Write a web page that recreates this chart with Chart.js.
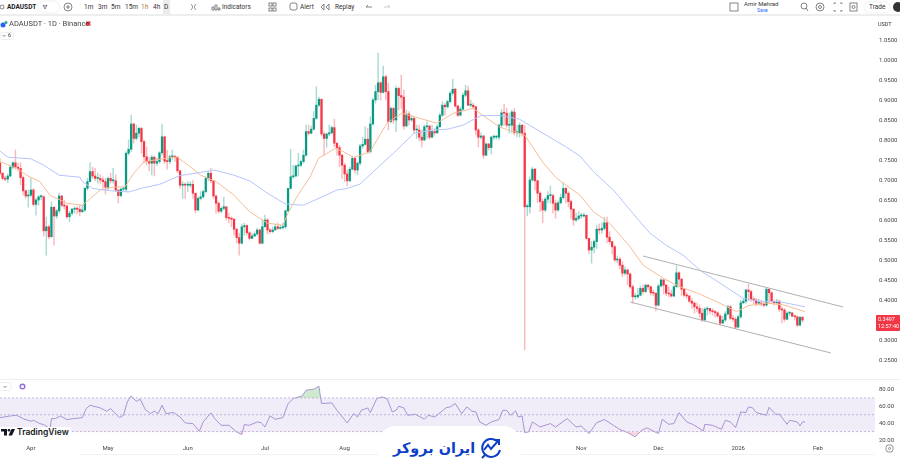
<!DOCTYPE html>
<html>
<head>
<meta charset="utf-8">
<title>ADAUSDT</title>
<script src="https://cdn.jsdelivr.net/npm/chart.js@4/dist/chart.umd.min.js"></script>
<style>
  body { margin: 0; background: #fff; width: 900px; height: 471px; overflow: hidden; position: relative; font-family: Roboto, sans-serif; color: #333; }
  canvas { position: absolute; left: 0; }
  .t { position: absolute; font-size: 6.5px; line-height: 8px; white-space: nowrap; }
  .ic { position: absolute; }
</style>
</head>
<body>
<canvas id="priceChart" style="top:16px"></canvas>
<canvas id="rsiChart" style="top:379px"></canvas>

<!-- toolbar -->
<div style="position:absolute;left:0;top:14px;width:900px;height:2px;background:#eeeeee"></div>
<div style="position:absolute;left:0;top:379px;width:900px;height:1px;background:#efefef"></div>
<div style="position:absolute;left:80px;top:454px;width:795px;height:1px;background:#f2f2f2"></div>
<div style="position:absolute;left:163px;top:0;width:7px;height:14px;background:#ebebeb"></div>
<span class="t" style="left:7px;top:3px;font-weight:700;color:#222">ADAUSDT</span>
<span class="t" style="left:84px;top:3px">1m</span>
<span class="t" style="left:98px;top:3px">3m</span>
<span class="t" style="left:111px;top:3px">5m</span>
<span class="t" style="left:125px;top:3px">15m</span>
<span class="t" style="left:141px;top:3px;color:#b07a2a">1h</span>
<span class="t" style="left:153px;top:3px">4h</span>
<span class="t" style="left:164px;top:3px">D</span>
<span class="t" style="left:222px;top:3px">Indicators</span>
<span class="t" style="left:300px;top:3px">Alert</span>
<span class="t" style="left:335px;top:3px">Replay</span>
<span class="t" style="left:744px;top:0px;font-size:6px">Amir Mehrad</span>
<span class="t" style="left:757px;top:6px;font-size:5px;color:#2962ff">Save</span>
<span class="t" style="left:869px;top:3px">Trade</span>
<svg class="ic" style="left:0;top:0" width="900" height="16" fill="none" stroke="#666" stroke-width="0.8">
  <circle cx="2" cy="7" r="2"/>
  <rect x="38" y="1" width="22" height="12" rx="6" stroke="#eee"/>
  <path d="M43 5l2 1 2-1-2 4z"/>
  <circle cx="68" cy="7" r="4"/><path d="M66 7h4M68 5v4"/>
  <path d="M191 4c2 2 2 4 0 6M196 4c-2 2-2 4 0 6"/>
  <path d="M212 10v-3h2v3zM215 10v-5h2v5zM218 10v-2h2v2z"/>
  <rect x="269" y="3" width="3" height="3"/><rect x="273" y="3" width="3" height="3"/><rect x="269" y="8" width="3" height="3"/><rect x="273" y="8" width="3" height="3"/>
  <rect x="290" y="3" width="7" height="7" rx="2"/>
  <path d="M324 4l-3 3 3 3zM329 4l-3 3 3 3z"/>
  <path d="M366 7h6M366 7l2-2" /><path d="M384 7h6M390 7l-2-2" stroke="#bbb"/>
  <rect x="730" y="3" width="8" height="8"/>
  <circle cx="804" cy="6" r="3"/><path d="M806 8l2 3"/>
  <circle cx="820" cy="7" r="4"/><circle cx="820" cy="7" r="1.5"/>
  <path d="M834 4v-1h2M840 3h2v1M842 10v1h-2M836 11h-2v-1"/>
  <rect x="850" y="3" width="7" height="8"/><circle cx="853.500" cy="7" r="1.500"/>
  <rect x="864" y="2" width="26" height="11" rx="5.500" stroke="#eee"/>
  <circle cx="898" cy="7" r="5" fill="#333" stroke="none"/>
</svg>

<!-- header of the pane -->
<svg class="ic" style="left:0;top:20px" width="100" height="20">
  <circle cx="3" cy="5" r="2.500" fill="#2962ff"/><circle cx="6" cy="2.500" r="1.500" fill="#26a69a"/>
  <path d="M86 1.500h5l-1 2 1 2h-5z" fill="#f23645"/>
  <rect x="0.500" y="12.500" width="13" height="7" rx="2" fill="#fff" stroke="#eee"/>
  <path d="M2.500 15l1.500 1.500 1.500-1.500" fill="none" stroke="#555" stroke-width="0.700"/>
</svg>
<span class="t" style="left:9px;top:20px;font-size:7.500px;color:#444">ADAUSDT · 1D · Binance</span>
<span class="t" style="left:8px;top:31px;font-size:5.500px">6</span>
<span class="t" style="left:878px;top:20px;font-size:5.500px">USDT</span>

<!-- last price tag -->
<div style="position:absolute;left:876px;top:315px;width:24px;height:16px;background:#f23645;border-radius:1px"></div>
<span class="t" style="left:878px;top:315px;color:#fff;font-size:5.500px">0.3497</span>
<span class="t" style="left:878px;top:322px;color:#fff;font-size:5.500px">12:57:40</span>

<!-- rsi header -->
<svg class="ic" style="left:0;top:382px" width="40" height="12">
  <rect x="-3" y="0.500" width="14" height="8" rx="1.500" fill="#fff" stroke="#eee"/>
  <path d="M3.500 4l1.500 1.500 1.500-1.500" fill="none" stroke="#555" stroke-width="0.700"/>
  <circle cx="22.500" cy="4.500" r="2.300" fill="none" stroke="#8e6ee0" stroke-width="1.400"/>
</svg>
<svg class="ic" style="left:885px;top:444px" width="10" height="10" fill="none" stroke="#666" stroke-width="0.700">
  <rect x="1" y="1" width="7" height="7" rx="2.500"/><circle cx="4.500" cy="4.500" r="1"/>
</svg>

<!-- tradingview mark -->
<div style="position:absolute;left:0;top:427px;width:71px;height:11px;background:#fff"></div>
<svg class="ic" style="left:1px;top:428px" width="15" height="9" fill="#131722">
  <path d="M0 1h6v6.500h-3v-4h-3z"/><circle cx="8" cy="2.300" r="1.300"/><path d="M10.500 1h3.500l-3 6.500h-3.500z"/>
</svg>
<span class="t" style="left:17px;top:427px;font-size:8.500px;line-height:11px;font-family:Inter,sans-serif;font-weight:600;color:#131722">TradingView</span>

<!-- iran broker banner -->
<div style="position:absolute;left:378px;top:426px;width:143px;height:45px;background:#fff;border-radius:18px 18px 0 0"></div>
<span class="t" dir="rtl" style="left:393px;top:437px;font-size:14.400px;line-height:22px;font-family:'DejaVu Sans';font-weight:700;color:#0d3fc6">ایران بروکر</span>
<svg class="ic" style="left:479px;top:436px" width="24" height="24" fill="none" stroke="#0d3fc6" stroke-width="2">
  <path d="M18 5a9 9 0 1 0 3 9"/>
  <path d="M5 14l4-5 3 4 7-8M15 4h5v5"/>
  <path d="M3 22l3-3"/>
</svg>

<script>
const firstOpen = 0.742;
const closes = [
  .717,.704,.702,.710,.732,.743,.732,.729,.706,.673,.660,.662,.675,.639,.650,.658,.658,.573,.583,.558,
  .632,.610,.623,.660,.637,.635,.608,.617,.627,.629,.627,.621,.625,.679,.696,.721,.710,.704,.704,.700,
  .696,.682,.704,.698,.698,.675,.661,.677,.677,.767,.777,.840,.804,.817,.829,.796,.758,.746,.742,.757,
  .742,.746,.768,.808,.747,.746,.758,.758,.757,.723,.687,.689,.687,.687,.689,.667,.625,.654,.658,.671,
  .704,.717,.698,.660,.642,.622,.629,.633,.606,.604,.602,.577,.556,.542,.583,.586,.568,.554,.560,.565,
  .575,.542,.583,.600,.575,.571,.575,.583,.579,.581,.583,.623,.679,.708,.710,.735,.737,.746,.762,.821,
  .817,.827,.854,.887,.902,.815,.804,.815,.818,.831,.792,.781,.762,.737,.715,.698,.727,.754,.725,.742,
  .785,.789,.802,.771,.840,.900,.921,.943,.919,.958,.921,.846,.879,.850,.929,.911,.907,.835,.865,.850,
  .854,.825,.825,.807,.800,.833,.835,.807,.821,.818,.833,.862,.887,.883,.896,.917,.927,.885,.862,.877,
  .912,.923,.887,.887,.883,.825,.807,.810,.762,.790,.781,.807,.807,.807,.837,.868,.867,.837,.837,.870,
  .818,.818,.837,.817,.633,.633,.700,.727,.698,.667,.646,.625,.652,.661,.661,.642,.625,.643,.656,.679,
  .667,.646,.627,.600,.604,.610,.610,.612,.554,.525,.532,.546,.577,.575,.579,.593,.557,.546,.533,.500,
  .502,.487,.467,.475,.465,.433,.408,.408,.412,.429,.421,.437,.433,.418,.417,.387,.435,.450,.437,.417,
  .415,.410,.433,.468,.452,.427,.412,.410,.397,.392,.383,.379,.367,.350,.377,.379,.373,.371,.368,.360,
  .342,.350,.365,.383,.354,.352,.332,.358,.393,.397,.425,.421,.402,.400,.392,.392,.390,.387,.427,.418,
  .396,.393,.397,.377,.375,.352,.367,.368,.360,.358,.337,.357,.3497
];
const highs = [
  .754,.718,.710,.715,.737,.746,.775,.742,.743,.710,.675,.675,.704,.679,.654,.662,.663,.660,.607,.587,
  .645,.633,.627,.667,.662,.650,.637,.622,.629,.633,.633,.637,.637,.683,.704,.743,.732,.729,.717,.713,
  .708,.704,.708,.717,.729,.713,.675,.679,.682,.771,.800,.862,.842,.837,.832,.832,.800,.782,.757,.762,
  .760,.754,.771,.840,.810,.775,.762,.775,.762,.758,.725,.696,.693,.696,.696,.700,.667,.658,.671,.675,
  .708,.721,.729,.698,.662,.646,.633,.657,.633,.617,.608,.604,.579,.567,.590,.592,.587,.571,.567,.571,
  .579,.577,.600,.612,.604,.579,.583,.590,.592,.587,.592,.625,.679,.777,.737,.737,.767,.750,.775,.837,
  .837,.835,.871,.933,.907,.902,.821,.818,.837,.835,.852,.793,.787,.765,.742,.725,.732,.760,.757,.746,
  .790,.807,.833,.829,.858,.904,.937,1.017,.946,.985,.962,.942,.883,.883,.935,.932,.962,.925,.875,.871,
  .862,.858,.837,.837,.825,.837,.846,.837,.837,.829,.837,.867,.896,.892,.900,.921,.952,.929,.887,.883,
  .917,.937,.935,.900,.892,.885,.829,.817,.812,.793,.792,.810,.812,.812,.840,.877,.890,.879,.867,.875,
  .879,.837,.843,.840,.837,.640,.708,.732,.729,.700,.671,.652,.656,.671,.685,.665,.650,.648,.665,.693,
  .682,.671,.650,.629,.617,.621,.617,.617,.612,.554,.546,.550,.587,.590,.593,.607,.607,.571,.546,.537,
  .510,.507,.496,.483,.477,.468,.437,.417,.429,.435,.437,.440,.440,.435,.425,.418,.440,.454,.452,.440,
  .433,.425,.437,.485,.471,.454,.429,.418,.412,.404,.396,.393,.388,.379,.381,.383,.379,.379,.375,.371,
  .365,.360,.371,.387,.387,.362,.357,.362,.400,.404,.427,.440,.425,.408,.404,.402,.400,.396,.431,.427,
  .421,.400,.402,.400,.383,.379,.371,.371,.365,.362,.360,.358,.358
];
const lows = [
  .713,.700,.698,.693,.708,.728,.727,.723,.688,.662,.654,.632,.658,.635,.612,.637,.650,.560,.512,.553,
  .557,.537,.604,.617,.633,.627,.604,.596,.612,.617,.615,.611,.618,.621,.675,.696,.704,.698,.692,.690,
  .679,.665,.675,.692,.692,.671,.643,.658,.671,.671,.762,.771,.792,.800,.807,.767,.742,.737,.723,.713,
  .710,.735,.742,.762,.742,.727,.740,.750,.746,.718,.679,.654,.654,.671,.682,.654,.618,.623,.650,.654,
  .667,.698,.693,.654,.617,.617,.618,.625,.600,.593,.583,.562,.543,.512,.540,.562,.562,.550,.554,.558,
  .562,.540,.540,.583,.565,.567,.568,.575,.575,.577,.577,.579,.621,.677,.704,.708,.710,.733,.742,.760,
  .812,.815,.825,.852,.883,.810,.762,.782,.810,.815,.783,.762,.733,.704,.696,.685,.696,.725,.717,.713,
  .737,.779,.787,.765,.767,.837,.892,.900,.900,.917,.900,.825,.843,.842,.821,.875,.879,.827,.833,.837,
  .846,.817,.804,.798,.782,.798,.804,.802,.807,.812,.815,.832,.858,.862,.879,.892,.912,.882,.858,.860,
  .875,.908,.885,.882,.877,.812,.783,.802,.754,.760,.775,.765,.800,.802,.800,.833,.837,.832,.817,.818,
  .812,.808,.807,.810,.275,.610,.617,.696,.675,.643,.621,.593,.621,.643,.642,.617,.604,.621,.640,.652,
  .643,.633,.604,.587,.596,.600,.604,.607,.550,.515,.492,.518,.529,.565,.567,.575,.543,.540,.515,.496,
  .493,.477,.458,.462,.437,.429,.392,.402,.404,.410,.415,.418,.425,.412,.410,.373,.385,.433,.415,.411,
  .408,.407,.408,.432,.433,.412,.408,.404,.393,.379,.367,.371,.357,.346,.348,.362,.365,.362,.357,.357,
  .337,.343,.346,.362,.350,.346,.329,.332,.354,.390,.392,.398,.396,.390,.385,.387,.385,.383,.385,.392,
  .392,.387,.390,.371,.343,.346,.350,.360,.357,.350,.333,.337,.344
];

const ema20Days = [0,6.5,10.4,15.5,19.4,26,32,33.7,39,44,48.6,52,56,68.7,74,78,84,91,97,104,110,112,115.4,120.6,123.8,130.3,133.5,137.4,143.9,150.4,156.2,163.3,169.8,176.3,184,189.3,194.4,204,211.3,216.5,225.5,230.7,237,245,250,258,264.4,272,278.6,286.4,291,298,304.5,313];
const ema20Values = [.746,.729,.712,.696,.662,.642,.637,.646,.675,.682,.683,.717,.746,.758,.733,.712,.696,.662,.621,.592,.587,.617,.658,.708,.754,.779,.771,.756,.771,.842,.867,.854,.842,.867,.879,.854,.832,.812,.742,.704,.662,.621,.592,.533,.487,.454,.433,.415,.396,.371,.386,.392,.388,.371];
const ema50Days = [0,3,12,17,23,31,32,36,43,50,56,62,70,78,83,91,97,104,111,118,126,131,135,140,146.5,153,161,168.5,174,180,187,194.5,202,210,220,225.5,230.7,238.5,246,252.7,259,265.6,272.8,280,289,295.4,303,313];
const ema50Values = [.772,.757,.753,.737,.712,.707,.696,.679,.673,.670,.681,.689,.711,.719,.725,.712,.698,.667,.640,.637,.660,.675,.679,.690,.729,.767,.817,.825,.827,.837,.861,.861,.852,.821,.783,.760,.721,.675,.617,.567,.537,.512,.471,.442,.404,.397,.396,.383];

const upperChannelDays = [250,327.8];
const upperChannelPrices = [.51,.3825];
const lowerChannelDays = [245,323.1];
const lowerChannelPrices = [.395,.2675];

const priceTicks = [1.05,1,.95,.9,.85,.8,.75,.7,.65,.6,.55,.5,.45,.4,.35,.3,.25];

const rsiDays = [0,4,6.5,9,12,13,15.5,17,19.5,20,21.5,23.5,26,28.5,32,33.5,35,39,41.5,43,45.5,46.5,48,49.5,51,53,54.5,56.5,58.5,60,61.5,63,64.5,67.5,70,72,75,77.5,79,82,83.5,86,89,92,94,95,97,100,101.5,103,105,107,110,112,114,117.5,119,122,124,125,129,131,135,137.5,139,140.5,143,144,146.5,148.5,150.5,152,152.5,154,155,157,158.5,161.5,165,166.5,169,171.5,173.5,175,177,179.5,181.5,183.5,185,186.5,189,191,194,195.5,197,198.5,200.5,201.5,203,204,205.5,207,210,214,216,220.5,224,226,229,232,235,238.5,241,243.5,247,249.5,251.5,256,257.5,260,262,264,267,269.5,273.5,274,277,280.5,282,284,286,288,290,291,292.5,294,298,299,301.5,303,306,307,310,311,312,313];
const rsiValues = [46.6,48.6,49.4,45.4,42.3,43.5,39.5,38.3,33.6,45.4,45.4,48.6,44.3,45.4,46.6,57.3,61.3,58.1,54.2,57.3,49.4,46.6,49.4,65.2,72.4,66,68.4,56.1,51.4,54.2,51.4,61.3,51.4,52.6,47.4,40.3,39.5,30.4,41.5,52.2,45.4,37.5,37.5,29.6,26.4,38.3,37.5,41.5,40.7,35.5,48.6,44.7,46.6,63.3,69.2,72.4,79.1,80.3,83.9,63.3,64.1,55.3,40.3,51.4,47.4,55.3,58.1,52.6,69.2,71.2,69.2,57.3,53.4,55.3,60.1,58.1,49.4,50.6,44.7,49.4,47.4,53.4,58.5,59.3,63.3,51.4,59.3,54.2,53.4,41.5,37.5,41.5,44.3,55.3,55.3,49.4,54.6,47.4,48.6,28.8,29.6,41.5,35.5,39.5,35.5,45.4,35.5,36.7,27.6,40.7,44.3,37.5,32.4,29.6,23.7,31.6,34.4,27.6,44.7,38.7,39.5,52.6,41.5,38.3,30.8,38.7,37.5,32.8,43.5,41.5,34.8,53.4,52.6,59.3,58.5,52.6,49.4,58.9,50.6,50.6,38.7,43.5,41.5,36.7,41.5,41.5];
const rsiBandDays = [0,341];
const rsiUpper = [70,70];
const rsiMiddle = [50,50];
const rsiLower = [30,30];
const rsiTicks = [80,60,40,20];

const monthDays = [12,42,73,103,134,226,256,287,318];
const monthLabels = ['Apr','May','Jun','Jul','Aug','Nov','Dec','2026','Feb'];

const GREEN = '#089981';
const RED = '#f23645';
const axisFont = { family: 'Roboto', size: 6 };
const maxDay = 340.2;

const opens = closes.map((c, i) => i === 0 ? firstOpen : closes[i - 1]);
const isUp = closes.map((c, i) => c >= opens[i]);

function points(xs, ys) {
  return xs.map((x, i) => ({ x: x, y: ys[i] }));
}

function lineSet(xs, ys, color, width, extra) {
  return Object.assign({
    type: 'line', data: points(xs, ys), borderColor: color, borderWidth: width,
    pointRadius: 0, tension: 0, fill: false
  }, extra || {});
}

// axis labels must not eat into the plot area, the panes have to line up with the page
function fitRight(s) {
  s.width = 25;
  s.paddingTop = 0;
  s.paddingBottom = 0;
}

const noGrid = { display: false, drawTicks: false };

// wicks and bodies are two floating bar sets on top of each other
const wickData = closes.map((c, i) => ({ x: i, y: [lows[i], highs[i]] }));
const bodyData = closes.map((c, i) => ({ x: i, y: [opens[i], c] }));

const priceCanvas = document.getElementById('priceChart');
priceCanvas.width = 900;
priceCanvas.height = 363;
new Chart(priceCanvas, {
  type: 'bar',
  data: {
    datasets: [
      lineSet(ema50Days, ema50Values, '#b3c5fb', 1, { order: 1 }),
      lineSet(ema20Days, ema20Values, '#f5bd96', 1, { order: 1 }),
      lineSet(upperChannelDays, upperChannelPrices, '#b0b0b0', 1, { order: 0 }),
      lineSet(lowerChannelDays, lowerChannelPrices, '#b0b0b0', 1, { order: 0 }),
      {
        data: bodyData, order: 2, grouped: false, barThickness: 1.6, minBarLength: 1,
        backgroundColor: isUp.map(u => u ? GREEN : RED)
      },
      {
        data: wickData, order: 3, grouped: false, barThickness: 0.8,
        backgroundColor: isUp.map(u => u ? 'rgba(8,153,129,0.35)' : 'rgba(242,54,69,0.35)')
      }
    ]
  },
  options: {
    responsive: false,
    animation: false,
    layout: { padding: 0 },
    plugins: { legend: { display: false }, tooltip: { enabled: false } },
    scales: {
      x: { type: 'linear', min: 0, max: maxDay, display: false, offset: false },
      y: {
        position: 'right', min: 0.2025, max: 1.11,
        grid: noGrid, border: { display: false },
        afterBuildTicks: s => { s.ticks = priceTicks.map(v => ({ value: v })); },
        afterFit: fitRight,
        ticks: { autoSkip: false, padding: 4, color: '#444', font: axisFont, callback: v => v.toFixed(4) }
      }
    }
  }
});

const rsiCanvas = document.getElementById('rsiChart');
rsiCanvas.width = 900;
rsiCanvas.height = 77;
new Chart(rsiCanvas, {
  type: 'line',
  data: {
    datasets: [
      lineSet(rsiBandDays, rsiUpper, '#b7a8d8', 0.8, { borderDash: [2, 2], fill: '+2', backgroundColor: 'rgba(126,87,194,0.11)' }),
      lineSet(rsiBandDays, rsiMiddle, '#b7a8d8', 0.8, { borderDash: [2, 2] }),
      lineSet(rsiBandDays, rsiLower, '#b7a8d8', 0.8, { borderDash: [2, 2] }),
      lineSet(rsiDays, rsiValues, '#a48fd0', 0.9, { fill: { target: { value: 70 }, above: 'rgba(76,175,80,0.28)', below: 'transparent' } }),
      lineSet(rsiDays, rsiValues, 'transparent', 0, { fill: { target: { value: 30 }, above: 'transparent', below: 'rgba(242,54,69,0.2)' } })
    ]
  },
  options: {
    responsive: false,
    animation: false,
    layout: { padding: 0 },
    plugins: { legend: { display: false }, tooltip: { enabled: false } },
    scales: {
      x: {
        type: 'linear', min: 0, max: maxDay,
        grid: noGrid, border: { display: false },
        afterBuildTicks: s => { s.ticks = monthDays.map(v => ({ value: v })); },
        afterFit: s => { s.height = 11; s.paddingLeft = 0; s.paddingRight = 0; },
        ticks: { autoSkip: false, maxRotation: 0, padding: 0, color: '#444', font: axisFont, callback: v => monthLabels[monthDays.indexOf(v)] }
      },
      y: {
        position: 'right', min: 14.1, max: 92.47,
        grid: noGrid, border: { display: false },
        afterBuildTicks: s => { s.ticks = rsiTicks.map(v => ({ value: v })); },
        afterFit: fitRight,
        ticks: { autoSkip: false, padding: 4, color: '#444', font: axisFont, callback: v => v.toFixed(2) }
      }
    }
  }
});
</script>
</body>
</html>
